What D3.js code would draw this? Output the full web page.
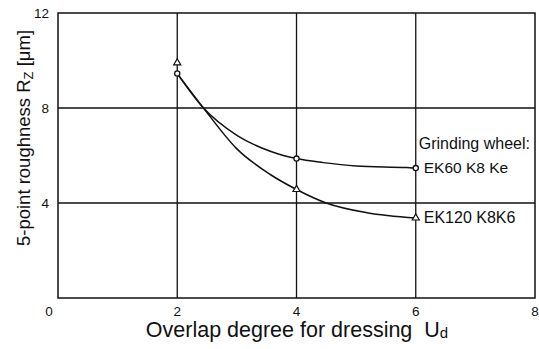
<!DOCTYPE html>
<html><head><meta charset="utf-8">
<script src="https://cdn.jsdelivr.net/npm/d3@7/dist/d3.min.js"></script>
<style>
html,body{margin:0;padding:0;background:#fff;}
svg{display:block;}
text{fill:#111;}
</style></head>
<body>
<svg id="chart" width="539" height="349"></svg>
<script>
// ---- data ----
const xTicks = [2, 4, 6, 8];
const yTicks = [4, 8, 12];
const markerUd = [2, 4, 6];
const ek60Rz = [9.45, 5.87, 5.47];
const ek120Rz = [9.9, 4.57, 3.37];
// curves
const ek60CurveUd = [2, 2.44, 3.0, 3.56, 4, 4.45, 5.0, 5.85, 6];
const ek60CurveRz = [9.45, 8.0, 6.85, 6.18, 5.87, 5.70, 5.56, 5.49, 5.47];
const ek120CurveUd = [2, 2.44, 3.0, 3.56, 4, 4.51, 5.18, 6];
const ek120CurveRz = [9.45, 8.0, 6.28, 5.20, 4.57, 3.99, 3.59, 3.37];
const legendTitle = "Grinding wheel:";
const ek60Label = "EK60 K8 Ke";
const ek120Label = "EK120 K8K6";

// ---- layout ----
const svg = d3.select("#chart");
const L = 58, R = 535, T = 13, B = 298;
const x = d3.scaleLinear().domain([0, 8]).range([L, R]);
const y = d3.scaleLinear().domain([0, 12]).range([B, T]);
const ink = "#111";

// grid lines
svg.append("g").selectAll("line").data(xTicks.filter(d => d < 8)).join("line")
  .attr("x1", d => x(d)).attr("x2", d => x(d)).attr("y1", T).attr("y2", B)
  .attr("stroke", ink).attr("stroke-width", 1.3);
svg.append("g").selectAll("line").data(yTicks.filter(d => d < 12)).join("line")
  .attr("x1", L).attr("x2", R).attr("y1", d => y(d)).attr("y2", d => y(d))
  .attr("stroke", ink).attr("stroke-width", 1.3);
// frame
svg.append("rect").attr("x", L).attr("y", T).attr("width", R - L).attr("height", B - T)
  .attr("fill", "none").attr("stroke", ink).attr("stroke-width", 1.5);

// tick labels
const tickFont = "'Liberation Sans', Arial, sans-serif";
svg.append("g").selectAll("text").data(xTicks).join("text")
  .attr("x", d => x(d)).attr("y", B + 18).attr("text-anchor", "middle")
  .attr("font-family", tickFont).attr("font-size", 13.5).text(d => d);
svg.append("g").selectAll("text").data(yTicks).join("text")
  .attr("x", L - 9).attr("y", d => y(d) + 5).attr("text-anchor", "end")
  .attr("font-family", tickFont).attr("font-size", 13.5).text(d => d);
svg.append("text").attr("x", L - 9).attr("y", B + 18).attr("text-anchor", "middle")
  .attr("font-family", tickFont).attr("font-size", 13.5).text(0);

// axis titles
const xt = svg.append("text").attr("x", 297).attr("y", 337).attr("text-anchor", "middle")
  .attr("font-family", "'Liberation Sans', Arial, sans-serif").attr("font-size", 21.5);
xt.append("tspan").text("Overlap degree for dressing\u00a0\u00a0U");
xt.append("tspan").attr("font-size", 15).attr("dy", 1).text("d");

const yt = svg.append("text").attr("transform", "translate(30,138) rotate(-90)")
  .attr("text-anchor", "middle")
  .attr("font-family", "'Liberation Sans', Arial, sans-serif").attr("font-size", 18.5);
yt.append("tspan").text("5-point roughness R");
yt.append("tspan").attr("font-size", 13).attr("dy", 3).text("Z");
yt.append("tspan").attr("dy", -3).text(" [μm]");

// curves
const line = d3.line().x(d => x(d[0])).y(d => y(d[1])).curve(d3.curveMonotoneX);
svg.append("path").datum(d3.zip(ek60CurveUd, ek60CurveRz)).attr("d", line)
  .attr("fill", "none").attr("stroke", ink).attr("stroke-width", 1.5);
svg.append("path").datum(d3.zip(ek120CurveUd, ek120CurveRz)).attr("d", line)
  .attr("fill", "none").attr("stroke", ink).attr("stroke-width", 1.5);

// markers
const circ = d3.zip(markerUd, ek60Rz);
const tri = d3.zip(markerUd, ek120Rz);
svg.append("g").selectAll("circle").data(circ).join("circle")
  .attr("cx", d => x(d[0])).attr("cy", d => y(d[1])).attr("r", 2.6)
  .attr("fill", "#fff").attr("stroke", ink).attr("stroke-width", 1.3);
const triSym = d3.symbol().type(d3.symbolTriangle).size(22);
svg.append("g").selectAll("path").data(tri).join("path")
  .attr("transform", d => `translate(${x(d[0])},${y(d[1])})`)
  .attr("d", triSym).attr("fill", "#fff").attr("stroke", ink).attr("stroke-width", 1.2);

// labels
const labFont = "'Liberation Sans', Arial, sans-serif";
svg.append("text").attr("x", x(6) + 3).attr("y", y(ek60Rz[2]) - 19)
  .attr("font-family", labFont).attr("font-size", 16).text(legendTitle);
svg.append("text").attr("x", x(6) + 8).attr("y", y(ek60Rz[2]) + 5)
  .attr("font-family", labFont).attr("font-size", 15.5).text(ek60Label);
svg.append("text").attr("x", x(6) + 8).attr("y", y(ek120Rz[2]) + 5.5)
  .attr("font-family", labFont).attr("font-size", 16).text(ek120Label);
</script>
</body></html>
